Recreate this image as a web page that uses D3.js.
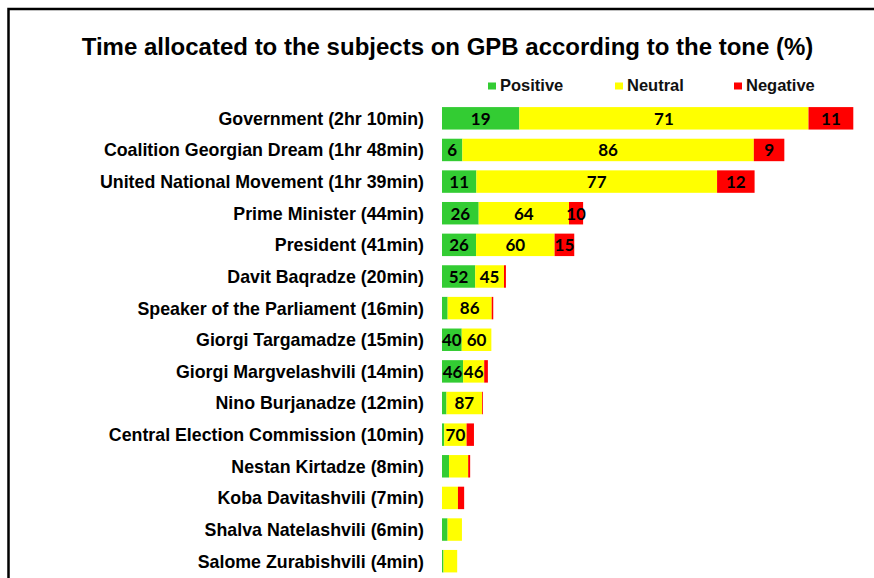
<!DOCTYPE html>
<html>
<head>
<meta charset="utf-8">
<script src="https://cdn.jsdelivr.net/npm/d3@7"></script>
<style>
  html, body { margin: 0; padding: 0; background: #fff; }
  svg { display: block; }
</style>
</head>
<body>
<script>
const title = "Time allocated to the subjects on GPB according to the tone (%)";
const categories = [
  "Government (2hr 10min)",
  "Coalition Georgian Dream (1hr 48min)",
  "United National Movement (1hr 39min)",
  "Prime Minister (44min)",
  "President (41min)",
  "Davit Baqradze (20min)",
  "Speaker of the Parliament (16min)",
  "Giorgi Targamadze (15min)",
  "Giorgi Margvelashvili (14min)",
  "Nino Burjanadze (12min)",
  "Central Election Commission (10min)",
  "Nestan Kirtadze (8min)",
  "Koba Davitashvili (7min)",
  "Shalva Natelashvili (6min)",
  "Salome Zurabishvili (4min)"
];
// estimated airtime in minutes (bar length)
const duration = [130, 108.2, 98.8, 44.6, 41.8, 20.2, 16.2, 15.6, 14.5, 12.9, 10.1, 8.9, 7.0, 6.3, 4.8];
const seriesNames = ["Positive", "Neutral", "Negative"];
const positive = [19, 6, 11, 26, 26, 52, 11, 40, 46, 11, 7, 25, 0, 28, 10];
const neutral  = [71, 86, 77, 64, 60, 45, 86, 60, 46, 87, 70, 68, 72, 72, 90];
const negative = [11, 9, 12, 10, 15, 3, 3, 0, 8, 2, 23, 7, 28, 0, 0];
// which values carry a data label (1 = shown)
const posLabelShown = [1,1,1,1,1,1,0,1,1,0,0,0,0,0,0];
const neuLabelShown = [1,1,1,1,1,1,1,1,1,1,1,0,0,0,0];
const negLabelShown = [1,1,1,1,1,0,0,0,0,0,0,0,0,0,0];
const colors = ["#33CC33", "#FFFF00", "#FF0000"];

const W = 874, H = 578;
const svg = d3.select("body").append("svg").attr("width", W).attr("height", H);

// frame
svg.append("rect").attr("x", 8.5).attr("y", 9).attr("width", 900).attr("height", 700)
  .attr("fill", "none").attr("stroke", "#000").attr("stroke-width", 2.5);

svg.append("text").attr("x", 447.5).attr("y", 55).attr("text-anchor", "middle")
  .attr("font-family", "Liberation Sans, Arial, sans-serif").attr("font-weight", "bold")
  .attr("font-size", 24).attr("fill", "#000").text(title);

const x0 = 442;
const x = d3.scaleLinear().domain([0, 130]).range([x0, 853.3]);
const y = d3.scaleBand().domain(categories).range([102.5, 577]).paddingInner(0.29).paddingOuter(0.145);

const series = [positive, neutral, negative];
const shown = [posLabelShown, neuLabelShown, negLabelShown];

// legend
const legendX = [488, 615, 734];
seriesNames.forEach((n, i) => {
  svg.append("rect").attr("x", legendX[i]).attr("y", 82.5).attr("width", 8).attr("height", 7).attr("fill", colors[i]);
  svg.append("text").attr("x", legendX[i] + 12).attr("y", 91)
    .attr("font-family", "Liberation Sans, Arial, sans-serif").attr("font-size", 16.5)
    .attr("font-weight", "bold").attr("fill", "#111").text(n);
});

// category labels
const yAxis = d3.axisLeft(y).tickSize(0).tickPadding(0);
const ag = svg.append("g").attr("transform", `translate(${x0 - 18},0)`).call(yAxis);
ag.select(".domain").remove();
ag.selectAll("text").attr("font-family", "Liberation Sans, Arial, sans-serif")
  .attr("font-weight", "bold").attr("font-size", 17.8).attr("fill", "#000").attr("dy", "0.36em");

// bars
categories.forEach((c, r) => {
  const total = positive[r] + neutral[r] + negative[r];
  let acc = 0;
  series.forEach((s, k) => {
    const v = s[r];
    const start = duration[r] * acc / total;
    const end = duration[r] * (acc + v) / total;
    acc += v;
    if (v <= 0) return;
    svg.append("rect").attr("x", x(start)).attr("y", y(c))
      .attr("width", x(end) - x(start)).attr("height", y.bandwidth())
      .attr("fill", colors[k]);
    if (shown[k][r]) {
      svg.append("text").attr("x", (x(start) + x(end)) / 2).attr("y", y(c) + y.bandwidth() / 2)
        .attr("dy", "0.37em").attr("text-anchor", "middle")
        .attr("font-family", "Lato, Calibri, sans-serif").attr("font-weight", "bold")
        .attr("font-size", 17).attr("fill", "#000").text(v);
    }
  });
});
</script>
</body>
</html>
